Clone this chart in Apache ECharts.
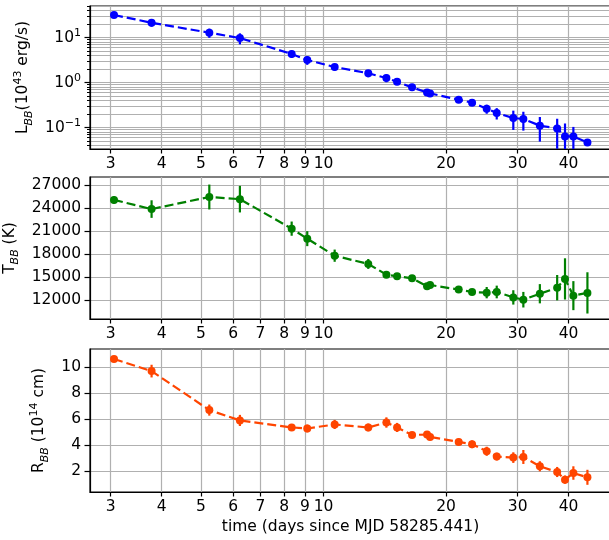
<!DOCTYPE html>
<html><head><meta charset="utf-8">
<script src="https://cdn.jsdelivr.net/npm/echarts@6/dist/echarts.min.js"></script>
<style>html,body{margin:0;padding:0;background:#fff}#c{width:609px;height:540px}</style>
</head><body><div id="c"></div><script>
// ---- data ----
const time = [3.056, 3.78, 5.24, 6.23, 8.35, 9.12, 10.65, 12.88, 14.27, 15.16, 16.5, 17.96, 18.27, 21.48, 23.17, 25.17, 26.64, 29.26, 30.97, 34.0, 37.5, 39.2, 41.1, 44.5];
const lum = [31.9, 21.5, 12.9, 9.8, 4.35, 3.19, 2.23, 1.62, 1.27, 1.05, 0.787, 0.608, 0.578, 0.419, 0.36, 0.264, 0.212, 0.164, 0.156, 0.111, 0.096, 0.064, 0.064, 0.047];
const lumErr = [2, 4, 3, 2.7, 0.8, 0.7, 0.38, 0.3, 0.25, 0.12, 0.09, 0.07, 0.065, 0.05, 0.05, 0.06, 0.06, 0.075, 0.07, 0.062, 0.062, 0.06, 0.04, 0.005];
const temp = [25100, 23900, 25480, 25200, 21340, 20030, 17800, 16720, 15320, 15100, 14840, 13790, 13970, 13360, 13050, 12960, 13050, 12340, 12040, 12820, 13610, 14760, 12570, 12930];
const tempErr = [480, 1150, 1630, 1740, 930, 980, 800, 650, 400, 350, 300, 350, 350, 300, 350, 740, 830, 940, 1020, 1260, 1660, 2700, 1900, 2700];
const radius = [10.64, 9.71, 6.70, 5.90, 5.36, 5.28, 5.59, 5.36, 5.74, 5.36, 4.78, 4.81, 4.63, 4.24, 4.06, 3.52, 3.11, 3.03, 3.08, 2.36, 1.92, 1.33, 1.84, 1.51];
const radErr = [0.2, 0.49, 0.43, 0.43, 0.25, 0.3, 0.35, 0.3, 0.4, 0.35, 0.2, 0.25, 0.25, 0.25, 0.3, 0.35, 0.3, 0.41, 0.54, 0.39, 0.39, 0.32, 0.52, 0.58];

const xTicks = [3, 4, 5, 6, 7, 8, 9, 10, 20, 30, 40];
const lumMajorTicks = [0.1, 1, 10];
const lumAllTicks = [0.04,0.05,0.06,0.07,0.08,0.09,0.1,0.2,0.3,0.4,0.5,0.6,0.7,0.8,0.9,1,2,3,4,5,6,7,8,9,10,20,30,40,50];
const tempTicks = [12000, 15000, 18000, 21000, 24000, 27000];
const radTicks = [2, 4, 6, 8, 10];

// ---- chart ----
const FONT = 'DejaVu Sans';
const FS = 15.5;
const GRID_COLOR = '#b0b0b0';
const chart = echarts.init(document.getElementById('c'), null, {renderer: 'canvas'});

function xAxis(gi, withName) {
  const a = {
    type: 'log', logBase: 10, gridIndex: gi, min: 2.668, max: 50.85,
    axisLine: {show: true, lineStyle: {color: '#000', width: 1.2}},
    axisTick: {show: true, customValues: xTicks, length: 4.5, lineStyle: {color: '#000', width: 1.2}},
    axisLabel: {customValues: xTicks, formatter: v => String(Math.round(v)), color: '#000', fontFamily: FONT, fontSize: FS, margin: 7},
    splitLine: {show: true, lineStyle: {color: GRID_COLOR, width: 1.2}}
  };
  if (withName) {
    a.name = 'time (days since MJD 58285.441)';
    a.nameLocation = 'middle';
    a.nameGap = 27;
    a.nameTextStyle = {color: '#000', fontFamily: FONT, fontSize: FS};
  }
  return a;
}

const richName = {
  n: {fontFamily: FONT, fontSize: FS, color: '#000', lineHeight: 22},
  sub: {fontFamily: FONT, fontSize: 11, fontStyle: 'italic', color: '#000', lineHeight: 12, verticalAlign: 'bottom'},
  sup: {fontFamily: FONT, fontSize: 11, color: '#000', lineHeight: 12, verticalAlign: 'top'}
};
const richLabel = {
  n: {fontFamily: FONT, fontSize: FS, color: '#000', lineHeight: 20},
  sup: {fontFamily: FONT, fontSize: 11, color: '#000', lineHeight: 12, verticalAlign: 'top'}
};

function errSeries(xi, yi, vals, errs, color) {
  return {
    type: 'custom', xAxisIndex: xi, yAxisIndex: yi, clip: true, z: 3, silent: true,
    data: time.map((t, i) => [t, vals[i], errs[i]]),
    renderItem: (params, api) => {
      const x = api.value(0), y = api.value(1), e = api.value(2);
      let lo = y - e; if (lo <= 0) lo = 1e-4;
      const p1 = api.coord([x, lo]), p2 = api.coord([x, y + e]);
      return {type: 'line', shape: {x1: p1[0], y1: p1[1], x2: p2[0], y2: p2[1]},
              style: {stroke: color, lineWidth: 2.2}};
    }
  };
}
function lineSeries(xi, yi, vals, color) {
  return {
    type: 'line', xAxisIndex: xi, yAxisIndex: yi, z: 4, silent: true,
    data: time.map((t, i) => [t, vals[i]]),
    symbol: 'circle', symbolSize: 8, showSymbol: true,
    itemStyle: {color: color},
    lineStyle: {color: color, width: 2.2, type: [9, 4]},
    animation: false
  };
}

const BLUE = '#0000ff', GREEN = '#008000', ORANGE = '#ff4500';
const gridBase = {left: 90, width: 521, show: true, borderColor: '#000', borderWidth: 1.2,
  backgroundColor: 'transparent', containLabel: false, outerBoundsMode: 'none'};

const option = {
  animation: false,
  backgroundColor: '#fff',
  grid: [
    Object.assign({}, gridBase, {top: 6, height: 143}),
    Object.assign({}, gridBase, {top: 177, height: 142}),
    Object.assign({}, gridBase, {top: 349, height: 143})
  ],
  xAxis: [xAxis(0, false), xAxis(1, false), xAxis(2, true)],
  yAxis: [
    {
      type: 'log', logBase: 10, gridIndex: 0, min: 0.0336, max: 50.6, position: 'left',
      name: '{n|L}{sub|BB}{n|(10}{sup|43}{n| erg/s)}',
      nameLocation: 'middle', nameGap: 51, nameRotate: 90,
      nameTextStyle: {color: '#000', fontFamily: FONT, fontSize: FS, rich: richName},
      axisLine: {show: true, lineStyle: {color: '#000', width: 1.2}},
      axisTick: {show: true, customValues: lumAllTicks, length: 3, lineStyle: {color: '#000', width: 1}},
      axisLabel: {customValues: lumMajorTicks, margin: 9, rich: richLabel,
        formatter: v => { const e = Math.round(Math.log10(v)); return '{n|10}{sup|' + (e < 0 ? '\u2212' + (-e) : e) + '}'; }},
      splitLine: {show: true, lineStyle: {color: GRID_COLOR, width: 1.2}}
    },
    {
      type: 'log', logBase: 10, gridIndex: 0, min: 0.0336, max: 50.6, position: 'left',
      axisLine: {show: false},
      axisTick: {show: true, customValues: lumMajorTicks, length: 5.5, lineStyle: {color: '#000', width: 1.2}},
      axisLabel: {show: false},
      splitLine: {show: false}
    },
    {
      type: 'value', gridIndex: 1, min: 9513, max: 28099, position: 'left',
      name: '{n|T}{sub|BB}{n| (K)}',
      nameLocation: 'middle', nameGap: 63, nameRotate: 90,
      nameTextStyle: {color: '#000', fontFamily: FONT, fontSize: FS, rich: richName},
      axisLine: {show: true, lineStyle: {color: '#000', width: 1.2}},
      axisTick: {show: true, customValues: tempTicks, length: 5.5, lineStyle: {color: '#000', width: 1.2}},
      axisLabel: {customValues: tempTicks, margin: 9, color: '#000', fontFamily: FONT, fontSize: FS, formatter: v => String(v)},
      splitLine: {show: true, lineStyle: {color: GRID_COLOR, width: 1.2}}
    },
    {
      type: 'value', gridIndex: 2, min: 0.375, max: 11.416, position: 'left',
      name: '{n|R}{sub|BB}{n| (10}{sup|14}{n| cm)}',
      nameLocation: 'middle', nameGap: 29, nameRotate: 90,
      nameTextStyle: {color: '#000', fontFamily: FONT, fontSize: FS, rich: richName},
      axisLine: {show: true, lineStyle: {color: '#000', width: 1.2}},
      axisTick: {show: true, customValues: radTicks, length: 5.5, lineStyle: {color: '#000', width: 1.2}},
      axisLabel: {customValues: radTicks, margin: 9, color: '#000', fontFamily: FONT, fontSize: FS, formatter: v => String(v)},
      splitLine: {show: true, lineStyle: {color: GRID_COLOR, width: 1.2}}
    }
  ],
  series: [
    errSeries(0, 0, lum, lumErr, BLUE),
    lineSeries(0, 0, lum, BLUE),
    errSeries(1, 2, temp, tempErr, GREEN),
    lineSeries(1, 2, temp, GREEN),
    errSeries(2, 3, radius, radErr, ORANGE),
    lineSeries(2, 3, radius, ORANGE)
  ]
};
chart.setOption(option);
</script></body></html>
